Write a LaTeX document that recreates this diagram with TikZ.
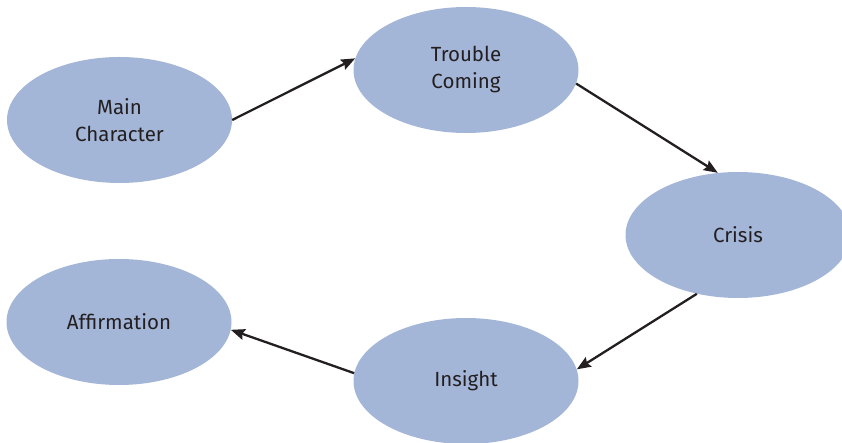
\documentclass[tikz,border=0pt]{standalone}
\usepackage{fontspec}
\setmainfont{Fira Sans}
\usetikzlibrary{arrows.meta,shapes.geometric}
\definecolor{bubble}{RGB}{164,182,216}
\definecolor{ink}{RGB}{35,31,32}
\tikzset{
  stage/.style={ellipse, fill=bubble, draw=none, minimum width=225pt,
    minimum height=126pt, inner sep=0pt, text=ink, align=center,
    font=\fontsize{20.5}{27}\selectfont},
  flow/.style={draw=ink, line width=2.3pt,
    -{Stealth[length=14pt,width=11pt,inset=2pt]}}
}
\begin{document}
\begin{tikzpicture}[x=1pt,y=1pt]
  \useasboundingbox (0,0) rectangle (842,443);
  \node[stage] (main)    at (119.5,323) {Main\\Character};
  \node[stage] (trouble) at (466,373)   {Trouble\\Coming};
  \node[stage] (crisis)  at (738,208)   {Crisis};
  \node[stage] (insight) at (466,62)    {Insight};
  \node[stage] (affirm)  at (119,121)   {Affirmation};
  \draw[flow] (main.0)       -- (trouble.174);
  \draw[flow] (trouble.-7)   -- (crisis.108);
  \draw[flow] (crisis.235)   -- (insight.6);
  \draw[flow] (insight.176)  -- (affirm.-4);
\end{tikzpicture}
\end{document}
